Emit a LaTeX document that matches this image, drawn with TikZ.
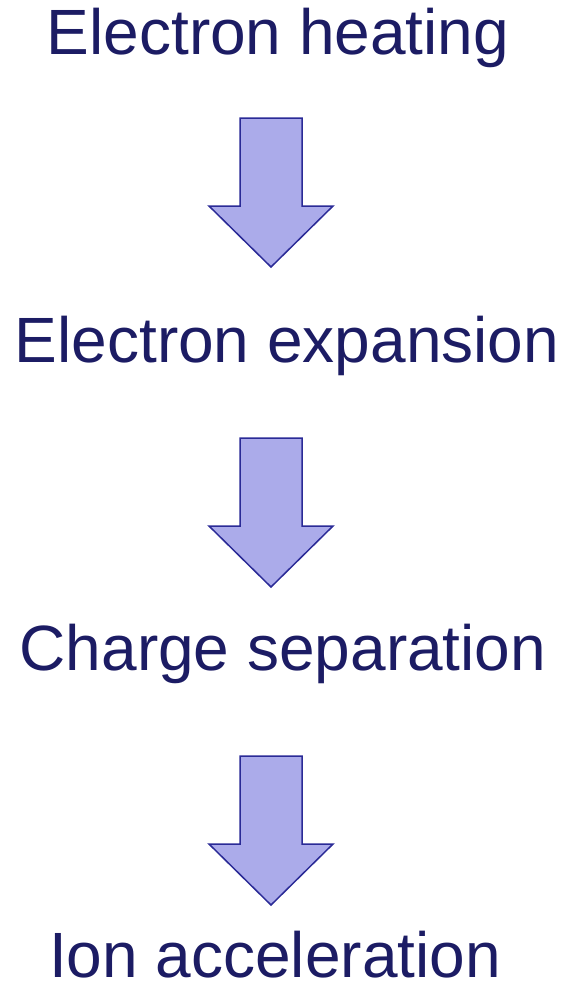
\documentclass[tikz,border=0pt]{standalone}
\usepackage{fontspec}
\setmainfont{Liberation Sans}
\definecolor{txt}{HTML}{1C1C64}
\definecolor{afill}{HTML}{ABABEA}
\definecolor{aline}{HTML}{2A2A96}
\begin{document}
\begin{tikzpicture}[x=1pt,y=-1pt,
  lbl/.style={anchor=base,text=txt,font=\fontsize{64}{70}\selectfont,inner sep=0pt},
  downarrow/.style={fill=afill,draw=aline,line width=1.5pt,line join=miter}]
\useasboundingbox (0,0) rectangle (570,983);
\node[lbl] (t1) at (278,54) {Electron heating};
\node[lbl] (t2) at (287,362.5) {Electron expansion};
\node[lbl] (t3) at (283,670) {Charge separation};
\node[lbl] (t4) at (275,977) {Ion acceleration};
\foreach \n/\y in {a1/118,a2/438,a3/756}{
  \draw[downarrow] (240,\y) -- (302,\y) -- (302,\y+88) -- (333,\y+88) -- (271,\y+149) -- (209,\y+88) -- (240,\y+88) -- cycle;
  \coordinate (\n) at (271,\y);
}
\end{tikzpicture}
\end{document}
